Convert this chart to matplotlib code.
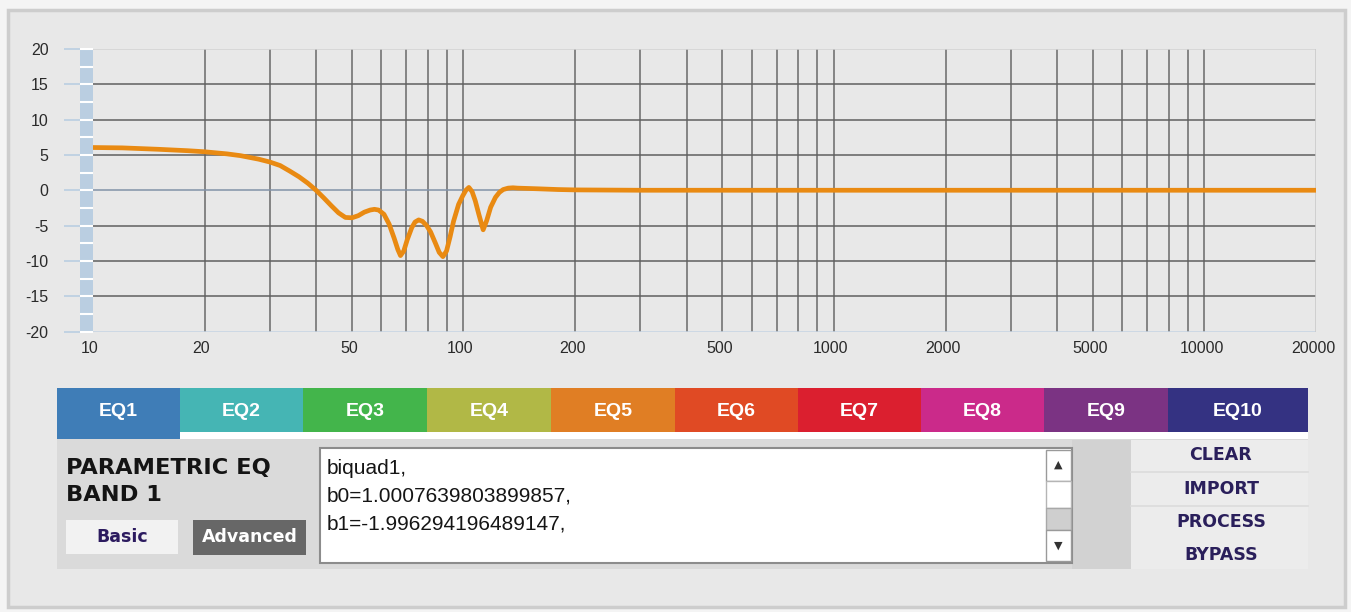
import matplotlib
matplotlib.use("Agg")
import matplotlib.pyplot as plt
from matplotlib.patches import Rectangle
from matplotlib.transforms import ScaledTranslation

# ---------------- data ----------------
freq_hz = [10, 12, 15, 18, 20, 23, 25, 28, 30, 32, 34, 36, 38, 40, 42, 44, 46, 48, 50,
           52, 54, 56, 57.5, 59, 61, 63, 65, 66.5, 67.6, 69, 70.5, 72.5, 74, 75.7, 77.5,
           79.5, 81.5, 84, 86, 88, 90, 92, 94, 97, 99.5, 101.5, 103.4, 105.5, 107.6, 110,
           113, 115.5, 118.4, 122, 125, 128, 132, 136, 140, 150, 160, 180, 200, 300, 500,
           1000, 2000, 5000, 10000, 20000]
gain_db = [6.05, 6.0, 5.8, 5.6, 5.45, 5.15, 4.9, 4.4, 4.0, 3.5, 2.7, 1.9, 1.0, 0.0, -1.1,
           -2.2, -3.2, -3.85, -3.9, -3.6, -3.1, -2.8, -2.7, -2.8, -3.4, -4.8, -6.8, -8.4,
           -9.25, -8.6, -7.0, -5.3, -4.5, -4.2, -4.4, -5.0, -5.9, -7.5, -8.8, -9.4, -8.6,
           -6.6, -4.4, -2.0, -0.8, 0.0, 0.4, -0.2, -1.5, -3.4, -5.6, -4.3, -2.4, -1.0, -0.3,
           0.1, 0.3, 0.35, 0.3, 0.25, 0.2, 0.1, 0.05, 0.0, 0.0, 0.0, 0.0, 0.0, 0.0, 0.0]

grid_freqs = [20, 30, 40, 50, 60, 70, 80, 90, 100,
              200, 300, 400, 500, 600, 700, 800, 900, 1000,
              2000, 3000, 4000, 5000, 6000, 7000, 8000, 9000, 10000]
xtick_freqs = [10, 20, 50, 100, 200, 500, 1000, 2000, 5000, 10000, 20000]
xtick_labels = ["10", "20", "50", "100", "200", "500", "1000", "2000", "5000", "10000", "20000"]
ytick_vals = [-20, -15, -10, -5, 0, 5, 10, 15, 20]
strip_marks = [-20, -17.5, -15, -12.5, -10, -7.5, -5, -2.5, 0, 2.5, 5, 7.5, 10, 12.5, 15, 17.5, 20]

tab_labels = ["EQ1", "EQ2", "EQ3", "EQ4", "EQ5", "EQ6", "EQ7", "EQ8", "EQ9", "EQ10"]
tab_colors = ["#3f7db7", "#45b5b4", "#43b54b", "#b1b846", "#e07e24",
              "#e04a24", "#db1f2f", "#cb2a8a", "#7b3383", "#343282"]
textarea_lines = ["biquad1,", "b0=1.0007639803899857,", "b1=-1.996294196489147,"]
side_buttons = ["CLEAR", "IMPORT", "PROCESS", "BYPASS"]

# ---------------- figure ----------------
W, H = 1351, 612
fig = plt.figure(figsize=(W / 100, H / 100), dpi=100)
fig.patch.set_facecolor("#f4f4f4")

ui = fig.add_axes([0, 0, 1, 1])
ui.set_xlim(0, W)
ui.set_ylim(H, 0)
ui.axis("off")
ui.set_zorder(0)

# outer panel
ui.add_patch(Rectangle((8, 10), 1337, 597, facecolor="#e8e8e8", edgecolor="#cdcdcd", lw=2.5))

# ---------------- plot axes ----------------
left_px, right_px, top_px, bot_px = 93, 1316, 49, 331.5
ax = fig.add_axes([left_px / W, 1 - bot_px / H, (right_px - left_px) / W, (bot_px - top_px) / H])
ax.set_zorder(2)
ax.set_facecolor("none")
ax.set_xscale("log")
ax.set_xlim(10, 20000)
ax.set_ylim(-20, 20)
for s in ax.spines.values():
    s.set_visible(False)

for f in grid_freqs:
    ax.axvline(f, color="#737373", lw=1.2, zorder=1)
for v in ytick_vals:
    if v == 20:
        c = "#d2d2d2"
    elif v == -20:
        c = "#c6d4e3"
    elif v == 0:
        c = "#8193a8"
    else:
        c = "#5f5f5f"
    ax.axhline(v, color=c, lw=1.1, zorder=1)
ax.axvline(20000, color="#cacaca", lw=1.2, zorder=1)

# left light-blue strip with white marks
ytr = ax.get_yaxis_transform()
strip_w = 13 / (right_px - left_px)
ax.add_patch(Rectangle((-strip_w, -20), strip_w, 40, transform=ytr, clip_on=False,
                       facecolor="#bacee1", edgecolor="none", zorder=1))
ax.hlines(strip_marks, -strip_w, 0, transform=ytr, colors="white", lw=1.5, clip_on=False, zorder=2)
ax.hlines(ytick_vals, -2.2 * strip_w, -strip_w, transform=ytr, colors="#bacee1", lw=1.2,
          clip_on=False, zorder=2)

ax.plot(freq_hz, gain_db, color="#e98a12", lw=3.4, solid_capstyle="round",
        solid_joinstyle="round", zorder=3)

ax.set_xticks(xtick_freqs)
ax.set_xticklabels(xtick_labels)
ax.xaxis.set_minor_locator(matplotlib.ticker.NullLocator())
ax.set_yticks(ytick_vals)
ax.set_yticklabels([str(v) for v in ytick_vals])
ax.tick_params(axis="x", length=0, pad=7, labelsize=11.5, labelcolor="#2a2a2a")
ax.tick_params(axis="y", length=0, pad=32, labelsize=11.5, labelcolor="#2a2a2a")
for lab in ax.get_xticklabels() + ax.get_yticklabels():
    lab.set_fontfamily("Liberation Sans")
for lab in ax.get_xticklabels():
    lab.set_transform(lab.get_transform() + ScaledTranslation(-3 / 100, 0, fig.dpi_scale_trans))

# ---------------- bottom UI ----------------
tab_edges = [57, 180, 303, 427, 551, 675, 798, 921, 1044, 1168, 1308]
ui.add_patch(Rectangle((57, 432), 1251, 7, facecolor="white", edgecolor="none"))
for i, (lab, col) in enumerate(zip(tab_labels, tab_colors)):
    x0, x1 = tab_edges[i], tab_edges[i + 1]
    h = 51 if i == 0 else 44
    ui.add_patch(Rectangle((x0, 388), x1 - x0, h, facecolor=col, edgecolor="none"))
    ui.text((x0 + x1) / 2, 412, lab, ha="center", va="center", color="white",
            fontsize=14, fontweight="bold", family="Liberation Sans")

# control panel
ui.add_patch(Rectangle((57, 439), 1251, 130, facecolor="#dadada", edgecolor="none"))
ui.add_patch(Rectangle((1072, 440), 59, 129, facecolor="#d2d2d2", edgecolor="none"))
ui.add_patch(Rectangle((1131, 440), 177, 129, facecolor="#ececec", edgecolor="none"))
for yy in (472, 506):
    ui.plot([1131, 1308], [yy, yy], color="#dcdcdc", lw=1.2)

ui.text(66, 468, "PARAMETRIC EQ", ha="left", va="center", fontsize=16.2, fontweight="bold",
        color="#141414", family="DejaVu Sans")
ui.text(66, 495, "BAND 1", ha="left", va="center", fontsize=16.2, fontweight="bold",
        color="#141414", family="DejaVu Sans")

ui.add_patch(Rectangle((66, 520), 112, 34, facecolor="#f2f2f2", edgecolor="none"))
ui.text(122, 537, "Basic", ha="center", va="center", fontsize=12.5, fontweight="bold",
        color="#2c1b5f", family="DejaVu Sans")
ui.add_patch(Rectangle((193, 520), 113, 35, facecolor="#676767", edgecolor="none"))
ui.text(249.5, 537, "Advanced", ha="center", va="center", fontsize=12.5, fontweight="bold",
        color="white", family="DejaVu Sans")

# text area
ui.add_patch(Rectangle((320, 448), 752, 115, facecolor="white", edgecolor="#8c8c8c", lw=1.5))
for k, line in enumerate(textarea_lines):
    ui.text(327, 474 + 27.5 * k, line, ha="left", va="baseline", fontsize=15,
            color="#151515", family="Liberation Sans")

# scrollbar
ui.add_patch(Rectangle((1046, 450), 25, 31, facecolor="white", edgecolor="#9a9a9a", lw=1))
ui.add_patch(Rectangle((1046, 481), 25, 27, facecolor="white", edgecolor="#b5b5b5", lw=1))
ui.add_patch(Rectangle((1046, 508), 25, 22, facecolor="#cfcfcf", edgecolor="#a8a8a8", lw=1))
ui.add_patch(Rectangle((1046, 530), 25, 31, facecolor="white", edgecolor="#9a9a9a", lw=1))
ui.text(1058.5, 465, "\u25B2", ha="center", va="center", fontsize=8, color="#333333",
        family="DejaVu Sans")
ui.text(1058.5, 546, "\u25BC", ha="center", va="center", fontsize=8, color="#333333",
        family="DejaVu Sans")

for lab, yy in zip(side_buttons, [455, 489, 522, 555]):
    ui.text(1221, yy, lab, ha="center", va="center", fontsize=12.5, fontweight="bold",
            color="#2a1f5b", family="DejaVu Sans")

fig.savefig("out.png", dpi=100, facecolor=fig.get_facecolor())
